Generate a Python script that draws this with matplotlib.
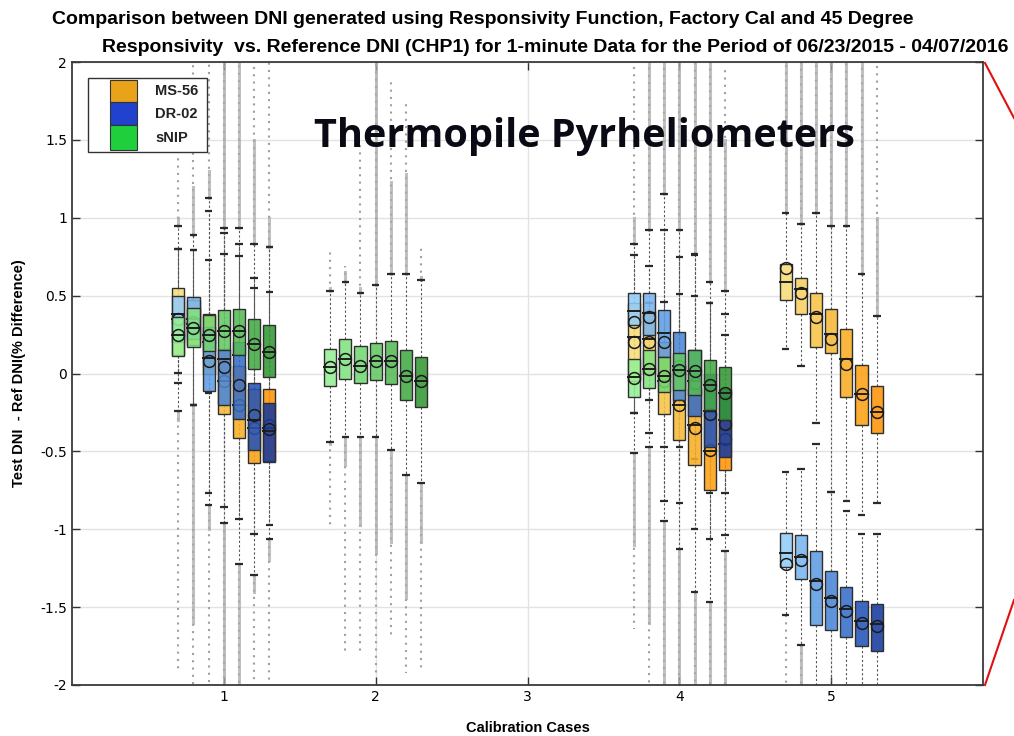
import numpy as np
import matplotlib
matplotlib.use("Agg")
import matplotlib.pyplot as plt
from matplotlib.patches import Rectangle
from matplotlib.lines import Line2D
from matplotlib.colors import to_rgba

nan = np.nan
NA = [nan] * 7

cases = [1, 2, 3, 4, 5]
case_labels = ["1", "2", "3", "4", "5"]
series_names = ["MS-56", "DR-02", "sNIP"]
y_ticks = [-2, -1.5, -1, -0.5, 0, 0.5, 1, 1.5, 2]
y_tick_labels = ["-2", "-1.5", "-1", "-0.5", "0", "0.5", "1", "1.5", "2"]

# rows = calibration case 1..5, columns = the 7 sub-cases
ms56_q1 = [[0.12, 0.18, 0.00, -0.26, -0.415, -0.577, -0.56], NA, NA,
           [-0.05, 0.0, -0.26, -0.43, -0.59, -0.75, -0.62],
           [0.47, 0.385, 0.17, 0.13, -0.15, -0.33, -0.385]]
ms56_med = [[0.35, 0.32, 0.2, -0.05, -0.2, -0.35, -0.35], NA, NA,
            [0.235, 0.22, -0.05, -0.2, -0.33, -0.5, -0.45],
            [0.585, 0.54, 0.38, 0.256, 0.09, -0.13, -0.244]]
ms56_q3 = [[0.55, 0.47, 0.38, 0.15, 0.05, -0.1, -0.097], NA, NA,
           [0.45, 0.4, 0.2, 0.05, -0.1, -0.25, -0.3],
           [0.70, 0.615, 0.52, 0.415, 0.287, 0.056, -0.082]]
ms56_mean = [[0.33, 0.3, 0.2, -0.05, -0.2, -0.35, -0.33], NA, NA,
             [0.2, 0.2, -0.05, -0.2, -0.35, -0.49, -0.42],
             [0.68, 0.52, 0.36, 0.22, 0.064, -0.133, -0.244]]
ms56_whi = [[0.95, 0.89, 1.13, 0.936, 0.936, 0.83, 0.81], NA, NA,
            [0.76, 0.69, 0.92, 0.75, 0.77, 0.45, 0.385],
            [1.03, 0.96, 1.03, 0.95, 0.95, 0.64, 0.37]]
ms56_wlo = [[-0.064, -0.205, -0.846, -0.96, -1.22, -1.295, -1.06], NA, NA,
            [-0.51, -0.475, -0.95, -1.13, -1.4, -1.47, -1.14],
            [0.16, 0.046, -0.32, -0.76, -0.82, -0.91, -0.83]]

dr02_q1 = [[0.2, 0.22, -0.115, -0.205, -0.295, -0.49, -0.57], NA, NA,
           [0.31, 0.246, 0.107, -0.17, -0.27, -0.47, -0.535],
           [-1.24, -1.32, -1.615, -1.65, -1.69, -1.75, -1.78]]
dr02_med = [[0.385, 0.35, 0.1, 0.09, 0.12, -0.3, -0.37], NA, NA,
            [0.4, 0.39, 0.26, 0.05, -0.05, -0.24, -0.3],
            [-1.15, -1.18, -1.33, -1.44, -1.51, -1.59, -1.61]]
dr02_q3 = [[0.5, 0.49, 0.3, 0.157, 0.2, -0.06, -0.19], NA, NA,
           [0.52, 0.515, 0.41, 0.265, 0.15, 0.0, -0.1],
           [-1.026, -1.04, -1.14, -1.27, -1.37, -1.46, -1.48]]
dr02_mean = [[0.35, 0.33, 0.08, 0.043, -0.074, -0.267, -0.357], NA, NA,
             [0.33, 0.36, 0.2, 0.05, -0.06, -0.26, -0.325],
             [-1.22, -1.2, -1.35, -1.46, -1.525, -1.6, -1.62]]
dr02_whi = [[0.8, 0.795, 1.046, 0.9, 0.83, 0.615, 0.81], NA, NA,
            [0.83, 0.92, 1.15, 0.92, 0.76, 0.59, 0.53],
            [-0.63, -0.615, -0.45, -0.76, -0.885, -1.03, -1.03]]
dr02_wlo = [[0.005, -0.205, -0.77, -0.86, -0.936, -1.03, -0.974], NA, NA,
            [-0.256, -0.385, -0.82, -0.83, -1.0, -1.06, -1.04],
            [-1.55, -1.74, -2.1, -2.1, -2.1, -2.1, -2.1]]

snip_q1 = [[0.115, 0.17, 0.146, 0.15, 0.12, 0.03, -0.025],
           [-0.08, -0.033, -0.06, -0.044, -0.07, -0.167, -0.218], NA,
           [-0.15, -0.09, -0.12, -0.105, -0.14, -0.235, -0.3], NA]
snip_med = [[0.245, 0.29, 0.25, 0.27, 0.27, 0.19, 0.14],
            [0.04, 0.09, 0.05, 0.08, 0.08, -0.013, -0.05], NA,
            [-0.02, 0.03, -0.015, 0.02, 0.016, -0.074, -0.125], NA]
snip_q3 = [[0.36, 0.42, 0.375, 0.405, 0.415, 0.35, 0.31],
           [0.16, 0.22, 0.174, 0.197, 0.21, 0.15, 0.108], NA,
           [0.09, 0.15, 0.107, 0.13, 0.15, 0.087, 0.04], NA]
snip_mean = [[0.245, 0.29, 0.25, 0.275, 0.275, 0.19, 0.14],
             [0.04, 0.09, 0.05, 0.08, 0.08, -0.013, -0.05], NA,
             [-0.026, 0.03, -0.015, 0.02, 0.016, -0.074, -0.125], NA]
snip_whi = [[0.8, 0.795, 0.726, 0.77, 0.756, 0.55, 0.525],
            [0.53, 0.59, 0.52, 0.57, 0.64, 0.64, 0.6], NA,
            [0.4, 0.45, 0.46, 0.51, 0.5, 0.45, 0.25], NA]
snip_wlo = [[-0.24, -0.2, -0.128, -0.2, -0.25, -0.3, -0.35],
            [-0.44, -0.41, -0.41, -0.41, -0.49, -0.65, -0.7], NA,
            [-0.256, -0.17, -0.475, -0.475, -0.55, -0.77, -0.77], NA]

# outlier spread per column (all three instruments share the x position)
dense_hi = [[1.0, 1.2, 1.3, 2.1, 2.1, 1.5, 1.0],
            [0.55, 0.65, 0.55, 2.1, 1.23, 1.28, 0.62], NA,
            [1.0, 2.1, 2.1, 2.1, 2.1, 2.1, 1.5],
            [2.1, 2.1, 2.1, 2.1, 2.1, 2.1, 1.0]]
sparse_hi = [[1.45, 2.1, 2.1, 2.1, 2.1, 2.1, 2.1],
             [0.8, 0.69, 1.49, 2.1, 1.9, 1.75, 0.83], NA,
             [2.1, 2.1, 2.1, 2.1, 2.1, 2.1, 1.95],
             [2.1, 2.1, 2.1, 2.1, 2.1, 2.1, 2.1]]
dense_lo = [[-0.3, -1.6, -1.0, -2.1, -2.1, -1.4, -1.2],
            [-0.45, -0.59, -0.97, -1.15, -1.08, -1.44, -1.08], NA,
            [-1.1, -1.6, -2.1, -2.1, -2.1, -2.1, -2.1],
            [-1.0, -2.1, -2.1, -2.1, -2.1, -2.1, -2.1]]
sparse_lo = [[-1.9, -2.1, -2.1, -2.1, -2.1, -2.1, -2.1],
             [-1.0, -1.8, -1.78, -1.92, -1.7, -1.92, -1.9], NA,
             [-1.64, -2.1, -2.1, -2.1, -2.1, -2.1, -2.1],
             [-2.1, -2.1, -2.1, -2.1, -2.1, -2.1, -2.1]]

shades = {
    "MS-56": ["#f6dc78", "#f7d062", "#f6c448", "#f7b936", "#f9ad24", "#fba114", "#ff9408"],
    "DR-02": ["#92ccf8", "#7ab4ee", "#5f9ce2", "#4a86d7", "#376fc9", "#2453b8", "#163a9e"],
    "sNIP": ["#94ef94", "#82e282", "#72d672", "#63c963", "#55bb55", "#44a944", "#339833"],
}
legend_colors = ["#e8a31a", "#2141cf", "#1fcf3c"]

series = [
    ("MS-56", ms56_q1, ms56_med, ms56_q3, ms56_mean, ms56_whi, ms56_wlo),
    ("DR-02", dr02_q1, dr02_med, dr02_q3, dr02_mean, dr02_whi, dr02_wlo),
    ("sNIP", snip_q1, snip_med, snip_q3, snip_mean, snip_whi, snip_wlo),
]

W, H = 1014, 736
fig = plt.figure(figsize=(W / 100, H / 100), dpi=100)
ax = fig.add_axes([72 / W, 51 / H, 911 / W, 623 / H])

offsets = np.arange(-3, 4) * 0.1
bw = 0.08
cw = 0.05

# outliers (gray dotted / dense lines)
for g, c in enumerate(cases):
    for k in range(7):
        if np.isnan(dense_hi[g][k]):
            continue
        x = c + offsets[k]
        tops = [s[5][g][k] for s in series if not np.isnan(s[5][g][k])]
        bots = [s[6][g][k] for s in series if not np.isnan(s[6][g][k])]
        top, bot = max(tops), min(bots)
        ax.plot([x, x], [top, sparse_hi[g][k]], color="#a0a0a0", lw=1.5,
                ls=(0, (1, 2.5)), zorder=1)
        ax.plot([x, x], [bot, sparse_lo[g][k]], color="#a0a0a0", lw=1.5,
                ls=(0, (1, 2.5)), zorder=1)
        if dense_hi[g][k] > top:
            ax.plot([x, x], [top, dense_hi[g][k]], color="#ababab", lw=2.2,
                    alpha=0.75, zorder=1.2)
        if dense_lo[g][k] < bot:
            ax.plot([x, x], [bot, dense_lo[g][k]], color="#ababab", lw=2.2,
                    alpha=0.75, zorder=1.2)

for si, (name, q1, med, q3, mean, whi, wlo) in enumerate(series):
    z = 3 + si
    for g, c in enumerate(cases):
        for k in range(7):
            if np.isnan(q1[g][k]):
                continue
            x = c + offsets[k]
            ax.plot([x, x], [q3[g][k], whi[g][k]], color="#555555", lw=0.8,
                    ls=(0, (2, 2)), zorder=2)
            ax.plot([x, x], [q1[g][k], wlo[g][k]], color="#555555", lw=0.8,
                    ls=(0, (2, 2)), zorder=2)
            for yv in (whi[g][k], wlo[g][k]):
                ax.plot([x - cw / 2, x + cw / 2], [yv, yv], color="#2a2a2a",
                        lw=1.6, zorder=2.5, solid_capstyle="butt")
            ax.add_patch(Rectangle((x - bw / 2, q1[g][k]), bw, q3[g][k] - q1[g][k],
                                   facecolor=to_rgba(shades[name][k], 0.88),
                                   edgecolor="#2e2e2e", lw=1.0, zorder=z))
            ax.plot([x - bw / 2, x + bw / 2], [med[g][k], med[g][k]],
                    color="#1e1e1e", lw=1.4, zorder=z + 0.1)
            ax.plot(x, mean[g][k], "o", mfc="none", mec="#1a1a1a", ms=8.5,
                    mew=1.1, zorder=z + 0.2)

ax.set_xlim(0, 6)
ax.set_ylim(-2, 2)
ax.set_xticks(cases)
ax.set_xticklabels(case_labels)
ax.set_yticks(y_ticks)
ax.set_yticklabels(y_tick_labels)
ax.tick_params(direction="in", top=True, right=True, length=6, width=1,
               labelsize=10, color="#333333")
ax.grid(True, color="#e3e3e3", lw=1)
ax.set_axisbelow(True)
for sp in ax.spines.values():
    sp.set_color("#3a3a3a")
    sp.set_linewidth(1.3)

ax.set_xlabel("Calibration Cases", fontsize=10.5, fontweight="bold",
              family="Liberation Sans", labelpad=12)
ax.set_ylabel("Test DNI  - Ref DNI(% Difference)", fontsize=10.5,
              fontweight="bold", family="Liberation Sans", labelpad=10)

fig.text(483 / W, 1 - 19 / H,
         "Comparison between DNI generated using Responsivity Function, Factory Cal and 45 Degree",
         ha="center", va="center", fontsize=14, fontweight="bold",
         family="Liberation Sans")
fig.text(555 / W, 1 - 47 / H,
         "Responsivity  vs. Reference DNI (CHP1) for 1-minute Data for the Period of 06/23/2015 - 04/07/2016",
         ha="center", va="center", fontsize=14, fontweight="bold",
         family="Liberation Sans")
fig.text(584 / W, 1 - 137 / H, "Thermopile Pyrheliometers", ha="center",
         va="center", fontsize=28.5, fontweight="bold", family="Open Sans",
         color="#0a0a14", zorder=10)

# legend box, MATLAB style
fig.patches.append(Rectangle((88 / W, 1 - 152 / H), 119 / W, 74 / H,
                             transform=fig.transFigure, facecolor="white",
                             edgecolor="#333333", lw=1.0, zorder=8))
rows = [(80, 102), (102, 125), (125, 150)]
for (t, b), col, lab in zip(rows, legend_colors, series_names):
    fig.patches.append(Rectangle((110 / W, 1 - b / H), 27 / W, (b - t) / H,
                                 transform=fig.transFigure, facecolor=col,
                                 edgecolor="#333333", lw=0.8, zorder=9))
    fig.text(155 / W, 1 - (t + b) / 2 / H, lab, ha="left", va="center",
             fontsize=10.5, fontweight="bold", family="Liberation Sans",
             color="#222222", zorder=10)

# red zoom-callout lines on the right edge
fig.add_artist(Line2D([985 / W, 1.0], [1 - 63 / H, 1 - 118 / H],
                      transform=fig.transFigure, color="#e01010", lw=1.5))
fig.add_artist(Line2D([985 / W, 1.0], [1 - 685 / H, 1 - 600 / H],
                      transform=fig.transFigure, color="#e01010", lw=1.5))

fig.savefig("out.png", dpi=100)
